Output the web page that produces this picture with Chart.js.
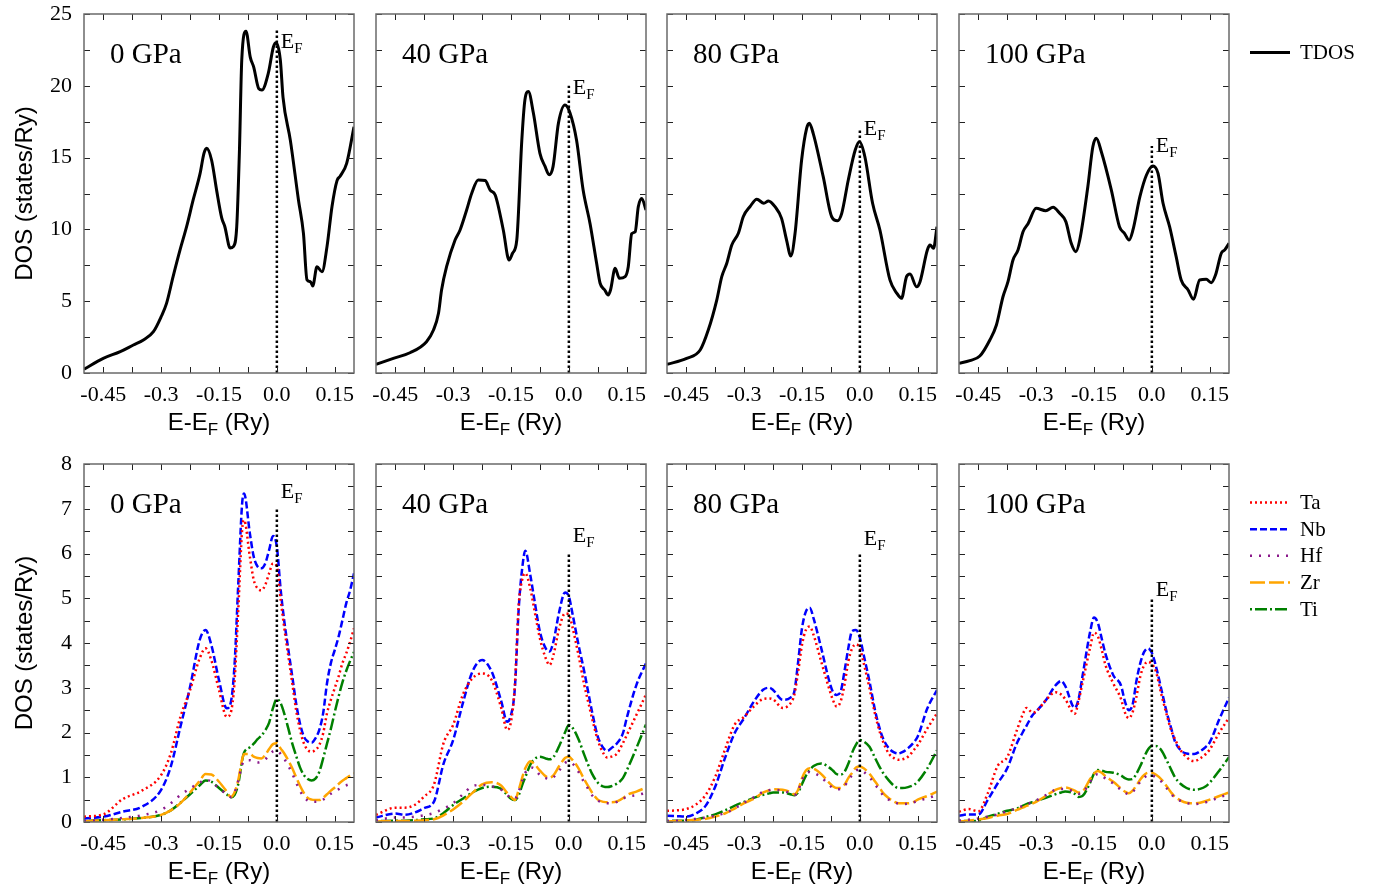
<!DOCTYPE html>
<html>
<head>
<meta charset="utf-8">
<script src="https://cdn.jsdelivr.net/npm/chart.js@4.4.1/dist/chart.umd.min.js"></script>
<style>
  html, body { margin: 0; padding: 0; background: #fff; }
  #page { position: relative; width: 1378px; height: 888px; overflow: hidden; }
  #page canvas { position: absolute; }
</style>
</head>
<body>
<div id="page"></div>
<script>
// ---- data ----
const pressures = ['0 GPa', '40 GPa', '80 GPa', '100 GPa'];

const xTicks = [-0.45, -0.375, -0.3, -0.225, -0.15, -0.075, 0, 0.075, 0.15];
const xTickLabels = ['-0.45', '', '-0.3', '', '-0.15', '', '0.0', '', '0.15'];
const tdosTicks = [0, 2.5, 5, 7.5, 10, 12.5, 15, 17.5, 20, 22.5, 25];
const tdosTickLabels = ['0', '', '5', '', '10', '', '15', '', '20', '', '25'];
const pdosTicks = [0, 0.5, 1, 1.5, 2, 2.5, 3, 3.5, 4, 4.5, 5, 5.5, 6, 6.5, 7, 7.5, 8];
const pdosTickLabels = ['0', '', '1', '', '2', '', '3', '', '4', '', '5', '', '6', '', '7', '', '8'];

// E_F marker: height of dotted line and of the label baseline (in DOS units)
const efTopTdos = [23.9, 20.0, 16.9, 15.8];
const efLabelTdos = [22.6, 19.4, 16.6, 15.4];
const efTopPdos = [7.0, 6.0, 6.0, 5.0];
const efLabelPdos = [7.25, 6.25, 6.2, 5.05];

// total DOS
const tdosE0 = [-0.5, -0.45, -0.406, -0.372, -0.346, -0.32, -0.3, -0.286, -0.269, -0.251, -0.234, -0.217, -0.199, -0.189, -0.182, -0.169, -0.156, -0.143, -0.135, -0.121, -0.113, -0.104, -0.097, -0.091, -0.08, -0.069, -0.06, -0.047, -0.039, -0.022, -0.009, -0.002, 0.009, 0.016, 0.035, 0.056, 0.069, 0.078, 0.087, 0.093, 0.104, 0.117, 0.13, 0.143, 0.156, 0.164, 0.181, 0.2];
const tdos0 = [0.26, 1.02, 1.49, 1.95, 2.3, 2.88, 3.92, 4.85, 6.71, 8.57, 10.19, 12.05, 13.9, 15.3, 15.65, 14.8, 12.7, 10.8, 10.2, 8.7, 8.8, 10.2, 15.5, 21.8, 23.8, 22.0, 21.3, 19.8, 19.7, 20.9, 22.7, 23.0, 21.8, 19.2, 16.2, 12.05, 9.7, 6.5, 6.36, 6.06, 7.4, 7.05, 8.8, 11.6, 13.4, 13.7, 14.6, 17.15];

const tdosE40 = [-0.5, -0.455, -0.412, -0.369, -0.351, -0.338, -0.33, -0.317, -0.295, -0.282, -0.265, -0.252, -0.235, -0.217, -0.204, -0.191, -0.17, -0.155, -0.146, -0.135, -0.122, -0.114, -0.105, -0.092, -0.075, -0.062, -0.051, -0.041, -0.027, -0.01, 0.003, 0.02, 0.037, 0.055, 0.072, 0.081, 0.093, 0.102, 0.108, 0.12, 0.131, 0.146, 0.154, 0.163, 0.172, 0.18, 0.189, 0.2];
const tdos40 = [0.6, 1.02, 1.41, 2.18, 2.99, 4.16, 5.78, 7.4, 9.26, 9.96, 11.35, 12.5, 13.44, 13.4, 12.74, 12.4, 9.96, 7.87, 8.34, 9.26, 16.2, 19.0, 19.6, 18.1, 15.3, 14.4, 13.8, 14.37, 17.4, 18.66, 18.1, 16.2, 12.74, 10.4, 7.64, 6.25, 5.78, 5.43, 5.78, 7.29, 6.59, 6.71, 7.4, 9.7, 9.84, 11.58, 12.16, 11.35];

const tdosE80 = [-0.5, -0.449, -0.414, -0.393, -0.371, -0.358, -0.345, -0.332, -0.315, -0.302, -0.285, -0.267, -0.249, -0.237, -0.22, -0.203, -0.19, -0.179, -0.168, -0.151, -0.138, -0.131, -0.121, -0.095, -0.073, -0.058, -0.047, -0.03, -0.012, -0.001, 0.013, 0.033, 0.052, 0.078, 0.096, 0.108, 0.121, 0.13, 0.147, 0.156, 0.175, 0.182, 0.191, 0.2];
const tdos80 = [0.6, 1.02, 1.6, 2.99, 5.08, 6.71, 7.64, 8.91, 9.73, 10.9, 11.58, 12.1, 11.82, 11.98, 11.58, 10.77, 9.26, 8.15, 9.73, 14.83, 17.04, 17.39, 16.69, 13.67, 10.88, 10.6, 11.12, 13.44, 15.53, 16.1, 15.06, 11.82, 9.96, 6.48, 5.55, 5.2, 6.71, 6.9, 6.0, 6.36, 8.57, 8.91, 8.68, 10.19];

const tdosE100 = [-0.5, -0.472, -0.446, -0.42, -0.403, -0.386, -0.373, -0.36, -0.347, -0.334, -0.321, -0.3, -0.275, -0.256, -0.239, -0.223, -0.209, -0.197, -0.187, -0.166, -0.153, -0.144, -0.131, -0.105, -0.084, -0.071, -0.059, -0.049, -0.031, -0.014, 0.003, 0.016, 0.029, 0.046, 0.063, 0.076, 0.094, 0.108, 0.124, 0.141, 0.154, 0.165, 0.18, 0.189, 0.2];
const tdos100 = [0.67, 0.86, 1.18, 2.3, 3.34, 5.31, 6.36, 7.87, 8.57, 9.84, 10.4, 11.47, 11.3, 11.54, 11.12, 10.54, 9.03, 8.45, 9.26, 12.97, 15.76, 16.34, 15.41, 12.74, 10.19, 9.73, 9.26, 9.96, 12.28, 13.79, 14.42, 13.9, 11.82, 10.19, 8.1, 6.48, 5.78, 5.13, 6.48, 6.52, 6.29, 6.82, 8.34, 8.57, 9.03];

// partial DOS, 0 GPa
const pdosE0 = [-0.5, -0.45, -0.4, -0.35, -0.3, -0.275, -0.25, -0.225, -0.2, -0.185, -0.17, -0.15, -0.13, -0.12, -0.11, -0.1, -0.09, -0.085, -0.07, -0.06, -0.05, -0.04, -0.03, -0.02, -0.01, 0, 0.01, 0.02, 0.03, 0.04, 0.05, 0.06, 0.07, 0.08, 0.09, 0.1, 0.11, 0.12, 0.13, 0.14, 0.15, 0.16, 0.17, 0.18, 0.19, 0.2];
const ta0 = [0.12, 0.17, 0.51, 0.7, 1.05, 1.53, 2.35, 2.95, 3.66, 3.88, 3.62, 2.95, 2.35, 2.43, 3.1, 4.74, 6.53, 6.75, 5.93, 5.41, 5.22, 5.18, 5.3, 5.56, 5.78, 5.71, 4.96, 4.29, 3.69, 3.1, 2.5, 2.06, 1.76, 1.61, 1.57, 1.61, 1.72, 1.98, 2.43, 2.73, 2.99, 3.25, 3.55, 3.77, 4.03, 4.33];
const nb0 = [0.08, 0.12, 0.23, 0.34, 0.72, 1.24, 2.13, 3.02, 4.07, 4.29, 3.96, 3.17, 2.54, 2.65, 3.47, 5.33, 7.12, 7.34, 6.45, 5.93, 5.71, 5.67, 5.78, 6.08, 6.39, 6.15, 5.18, 4.44, 3.84, 3.25, 2.65, 2.2, 1.91, 1.8, 1.77, 1.87, 2.06, 2.43, 3.1, 3.55, 3.84, 4.14, 4.51, 4.89, 5.18, 5.56];
const hf0 = [0.02, 0.05, 0.09, 0.15, 0.27, 0.42, 0.6, 0.75, 0.88, 0.95, 0.9, 0.75, 0.62, 0.56, 0.65, 0.92, 1.28, 1.36, 1.38, 1.35, 1.33, 1.35, 1.4, 1.5, 1.58, 1.6, 1.52, 1.4, 1.25, 1.08, 0.88, 0.7, 0.56, 0.48, 0.45, 0.45, 0.46, 0.5, 0.56, 0.63, 0.68, 0.73, 0.78, 0.82, 0.85, 0.87];
const zr0 = [0.02, 0.04, 0.06, 0.09, 0.16, 0.26, 0.42, 0.66, 0.92, 1.07, 1.06, 0.9, 0.68, 0.56, 0.66, 0.94, 1.4, 1.52, 1.52, 1.46, 1.43, 1.42, 1.5, 1.63, 1.74, 1.76, 1.64, 1.52, 1.37, 1.2, 1.0, 0.81, 0.65, 0.54, 0.5, 0.49, 0.49, 0.54, 0.62, 0.7, 0.77, 0.85, 0.92, 0.98, 1.04, 1.09];
const ti0 = [0.02, 0.04, 0.06, 0.09, 0.16, 0.26, 0.43, 0.62, 0.82, 0.93, 0.9, 0.76, 0.62, 0.55, 0.6, 0.85, 1.38, 1.55, 1.67, 1.75, 1.85, 1.93, 2.05, 2.22, 2.55, 2.75, 2.65, 2.4, 2.08, 1.75, 1.48, 1.22, 1.05, 0.96, 0.93, 0.97, 1.12, 1.42, 1.75, 2.08, 2.45, 2.8, 3.12, 3.38, 3.6, 3.8];

// partial DOS, 40 GPa
const pdosE40 = [-0.5, -0.45, -0.425, -0.4, -0.375, -0.35, -0.325, -0.3, -0.275, -0.25, -0.225, -0.2, -0.175, -0.16, -0.15, -0.14, -0.13, -0.12, -0.113, -0.1, -0.09, -0.075, -0.06, -0.05, -0.04, -0.025, -0.01, 0, 0.01, 0.025, 0.04, 0.05, 0.06, 0.075, 0.09, 0.1, 0.11, 0.125, 0.14, 0.15, 0.175, 0.2];
const ta40 = [0.16, 0.32, 0.32, 0.38, 0.57, 0.83, 1.76, 2.17, 2.84, 3.21, 3.32, 3.17, 2.54, 2.06, 2.24, 3.06, 4.85, 5.45, 5.56, 5.22, 4.77, 4.1, 3.66, 3.51, 3.73, 4.33, 4.66, 4.64, 4.33, 3.73, 3.06, 2.69, 2.32, 1.83, 1.53, 1.44, 1.46, 1.53, 1.76, 1.94, 2.39, 2.85];
const nb40 = [0.1, 0.19, 0.16, 0.21, 0.31, 0.45, 1.3, 1.83, 2.65, 3.36, 3.62, 3.36, 2.69, 2.24, 2.39, 2.99, 4.77, 5.74, 6.06, 5.52, 5.0, 4.25, 3.88, 3.81, 4.03, 4.7, 5.13, 5.04, 4.63, 3.96, 3.36, 2.91, 2.47, 1.91, 1.65, 1.59, 1.65, 1.76, 1.98, 2.32, 3.06, 3.55];
const hf40 = [0.04, 0.1, 0.1, 0.12, 0.15, 0.2, 0.3, 0.42, 0.62, 0.8, 0.83, 0.8, 0.72, 0.6, 0.55, 0.52, 0.68, 0.95, 1.1, 1.22, 1.2, 1.05, 0.98, 0.96, 1.0, 1.15, 1.32, 1.35, 1.3, 1.12, 0.88, 0.74, 0.6, 0.48, 0.43, 0.42, 0.42, 0.45, 0.52, 0.56, 0.6, 0.65];
const zr40 = [0.01, 0.02, 0.02, 0.03, 0.04, 0.06, 0.15, 0.28, 0.45, 0.65, 0.84, 0.89, 0.81, 0.65, 0.56, 0.49, 0.72, 1.02, 1.2, 1.36, 1.3, 1.15, 1.02, 0.99, 1.04, 1.25, 1.43, 1.46, 1.38, 1.2, 0.95, 0.8, 0.66, 0.5, 0.45, 0.44, 0.44, 0.46, 0.53, 0.6, 0.68, 0.77];
const ti40 = [0.02, 0.03, 0.03, 0.04, 0.06, 0.08, 0.2, 0.38, 0.52, 0.66, 0.76, 0.79, 0.74, 0.6, 0.52, 0.49, 0.6, 0.85, 1.0, 1.28, 1.4, 1.46, 1.42, 1.4, 1.45, 1.7, 2.0, 2.17, 2.1, 1.85, 1.5, 1.28, 1.08, 0.88, 0.79, 0.78, 0.8, 0.86, 0.98, 1.15, 1.65, 2.18];

// partial DOS, 80 GPa
const pdosE80 = [-0.5, -0.475, -0.45, -0.425, -0.4, -0.375, -0.35, -0.325, -0.3, -0.275, -0.25, -0.235, -0.225, -0.2, -0.18, -0.17, -0.16, -0.15, -0.14, -0.13, -0.12, -0.1, -0.08, -0.07, -0.06, -0.05, -0.04, -0.03, -0.02, -0.01, 0, 0.01, 0.025, 0.04, 0.05, 0.06, 0.075, 0.09, 0.1, 0.11, 0.125, 0.14, 0.15, 0.175, 0.2];
const ta80 = [0.25, 0.26, 0.29, 0.39, 0.6, 1.01, 1.61, 2.17, 2.35, 2.58, 2.75, 2.76, 2.74, 2.55, 2.65, 2.84, 3.36, 3.96, 4.29, 4.37, 4.18, 3.58, 2.99, 2.73, 2.58, 2.69, 3.06, 3.58, 3.88, 3.97, 3.88, 3.55, 2.99, 2.39, 2.06, 1.8, 1.53, 1.42, 1.39, 1.4, 1.46, 1.61, 1.72, 2.09, 2.43];
const nb80 = [0.14, 0.13, 0.12, 0.19, 0.36, 0.79, 1.42, 1.98, 2.32, 2.69, 2.96, 3.0, 2.95, 2.73, 2.78, 2.91, 3.58, 4.33, 4.7, 4.79, 4.55, 3.88, 3.17, 2.91, 2.84, 2.91, 3.36, 3.88, 4.27, 4.29, 4.12, 3.73, 3.14, 2.47, 2.13, 1.87, 1.65, 1.55, 1.53, 1.56, 1.65, 1.78, 1.91, 2.54, 2.95];
const hf80 = [0.02, 0.03, 0.05, 0.07, 0.1, 0.14, 0.2, 0.3, 0.43, 0.55, 0.68, 0.71, 0.72, 0.7, 0.64, 0.6, 0.7, 0.94, 1.08, 1.12, 1.1, 1.0, 0.83, 0.76, 0.73, 0.74, 0.8, 0.93, 1.05, 1.15, 1.17, 1.12, 1.0, 0.83, 0.72, 0.6, 0.5, 0.44, 0.41, 0.4, 0.41, 0.44, 0.47, 0.53, 0.6];
const zr80 = [0.01, 0.02, 0.03, 0.05, 0.07, 0.12, 0.19, 0.3, 0.42, 0.52, 0.66, 0.71, 0.73, 0.72, 0.67, 0.62, 0.72, 0.98, 1.15, 1.2, 1.19, 1.07, 0.88, 0.8, 0.76, 0.76, 0.83, 0.98, 1.1, 1.22, 1.24, 1.2, 1.08, 0.9, 0.78, 0.65, 0.53, 0.45, 0.42, 0.42, 0.42, 0.45, 0.5, 0.58, 0.68];
const ti80 = [0.02, 0.03, 0.03, 0.05, 0.11, 0.17, 0.26, 0.36, 0.45, 0.54, 0.61, 0.64, 0.66, 0.66, 0.62, 0.6, 0.66, 0.85, 1.03, 1.16, 1.25, 1.31, 1.22, 1.15, 1.07, 1.06, 1.12, 1.3, 1.55, 1.73, 1.83, 1.8, 1.68, 1.42, 1.25, 1.1, 0.93, 0.8, 0.76, 0.76, 0.78, 0.83, 0.9, 1.2, 1.6];

// partial DOS, 100 GPa
const pdosE100 = [-0.5, -0.475, -0.45, -0.425, -0.4, -0.375, -0.35, -0.335, -0.325, -0.31, -0.3, -0.275, -0.25, -0.235, -0.225, -0.2, -0.19, -0.18, -0.16, -0.15, -0.14, -0.13, -0.12, -0.1, -0.08, -0.07, -0.06, -0.05, -0.04, -0.03, -0.02, -0.01, 0, 0.01, 0.025, 0.04, 0.05, 0.06, 0.075, 0.09, 0.1, 0.11, 0.125, 0.14, 0.15, 0.175, 0.2];
const ta100 = [0.23, 0.29, 0.24, 0.65, 1.25, 1.45, 2.05, 2.4, 2.55, 2.45, 2.47, 2.72, 2.9, 2.85, 2.75, 2.42, 2.7, 3.1, 3.9, 4.23, 4.15, 3.85, 3.5, 3.1, 2.75, 2.45, 2.32, 2.45, 2.8, 3.25, 3.5, 3.58, 3.53, 3.38, 2.84, 2.35, 2.05, 1.85, 1.6, 1.45, 1.38, 1.36, 1.42, 1.52, 1.62, 2.0, 2.33];
const nb100 = [0.14, 0.17, 0.17, 0.5, 0.86, 1.2, 1.76, 2.0, 2.15, 2.38, 2.47, 2.72, 3.05, 3.15, 3.05, 2.55, 2.75, 3.25, 4.25, 4.57, 4.45, 4.1, 3.75, 3.28, 3.05, 2.7, 2.5, 2.62, 3.15, 3.55, 3.8, 3.88, 3.78, 3.5, 2.95, 2.4, 2.1, 1.8, 1.6, 1.53, 1.52, 1.52, 1.58, 1.68, 1.78, 2.3, 2.78];
const hf100 = [0.03, 0.05, 0.08, 0.12, 0.17, 0.24, 0.31, 0.36, 0.4, 0.44, 0.48, 0.6, 0.72, 0.74, 0.74, 0.67, 0.63, 0.65, 0.9, 1.02, 1.07, 1.04, 0.97, 0.86, 0.72, 0.66, 0.62, 0.67, 0.78, 0.9, 0.99, 1.04, 1.04, 1.0, 0.9, 0.74, 0.63, 0.54, 0.47, 0.42, 0.41, 0.4, 0.41, 0.44, 0.47, 0.55, 0.62];
const zr100 = [0.01, 0.03, 0.06, 0.09, 0.14, 0.18, 0.27, 0.32, 0.36, 0.41, 0.45, 0.58, 0.72, 0.76, 0.77, 0.7, 0.66, 0.68, 0.96, 1.08, 1.14, 1.1, 1.02, 0.9, 0.75, 0.68, 0.64, 0.7, 0.82, 0.95, 1.05, 1.1, 1.1, 1.06, 0.95, 0.78, 0.66, 0.56, 0.48, 0.43, 0.42, 0.42, 0.43, 0.47, 0.5, 0.58, 0.66];
const ti100 = [0.02, 0.02, 0.03, 0.12, 0.18, 0.25, 0.3, 0.36, 0.4, 0.44, 0.47, 0.54, 0.62, 0.66, 0.68, 0.63, 0.56, 0.58, 0.88, 1.08, 1.16, 1.15, 1.12, 1.1, 1.04, 0.98, 0.95, 0.96, 1.08, 1.25, 1.45, 1.62, 1.7, 1.7, 1.6, 1.35, 1.17, 1.0, 0.85, 0.76, 0.73, 0.72, 0.74, 0.8, 0.88, 1.15, 1.45];

const tdosPanels = [[tdosE0, tdos0], [tdosE40, tdos40], [tdosE80, tdos80], [tdosE100, tdos100]];
const pdosPanels = [
  [pdosE0, ta0, nb0, hf0, zr0, ti0],
  [pdosE40, ta40, nb40, hf40, zr40, ti40],
  [pdosE80, ta80, nb80, hf80, zr80, ti80],
  [pdosE100, ta100, nb100, hf100, zr100, ti100]
];

const species = ['Ta', 'Nb', 'Hf', 'Zr', 'Ti'];
const speciesColor = ['#ff0000', '#0000ff', '#8b1a8b', '#ffa500', '#008000'];
const speciesDash = [[2, 3], [7, 3], [2, 7], [15, 4], [2, 3, 12, 3]];

// ---- layout ----
const SERIF = '"Liberation Serif", "Times New Roman", serif';
const SANS = '"Liberation Sans", Arial, sans-serif';
Chart.defaults.font.family = SERIF;
Chart.defaults.color = '#000';

const colLeft = [84, 376, 667, 959];
const rowTop = [14, 464];
const plotW = 270;
const plotH = [359, 358];
const AXIS_W = 84, PAD_TOP = 14, AXIS_H = 66;

const pairs = (xs, ys) => xs.map((x, i) => ({ x: x, y: ys[i] }));

const frame = {
  id: 'frame',
  afterDatasetsDraw(chart, args, opts) {
    const { ctx, chartArea: a, scales: { x, y } } = chart;
    ctx.save();
    // inward ticks on all four sides
    ctx.strokeStyle = '#222';
    ctx.lineWidth = 1;
    ctx.beginPath();
    x.ticks.forEach(t => {
      const px = Math.round(x.getPixelForValue(t.value)) + 0.5;
      ctx.moveTo(px, a.bottom); ctx.lineTo(px, a.bottom - 6);
      ctx.moveTo(px, a.top); ctx.lineTo(px, a.top + 6);
    });
    y.ticks.forEach(t => {
      const py = Math.round(y.getPixelForValue(t.value)) + 0.5;
      ctx.moveTo(a.left, py); ctx.lineTo(a.left + 6, py);
      ctx.moveTo(a.right, py); ctx.lineTo(a.right - 6, py);
    });
    ctx.stroke();
    ctx.strokeStyle = '#6a6a6a';
    ctx.lineWidth = 1.5;
    ctx.strokeRect(a.left, a.top, a.right - a.left, a.bottom - a.top);

    ctx.fillStyle = '#000';
    ctx.textBaseline = 'alphabetic';
    ctx.textAlign = 'left';
    // pressure label
    ctx.font = '29px ' + SERIF;
    ctx.fillText(opts.label, a.left + 26, a.top + 49);
    // E_F label
    const ex = x.getPixelForValue(0) + 4;
    const ey = y.getPixelForValue(opts.efLabel);
    ctx.font = '22px ' + SERIF;
    ctx.fillText('E', ex, ey);
    const ew = ctx.measureText('E').width;
    ctx.font = '15px ' + SERIF;
    ctx.fillText('F', ex + ew, ey + 5);

    // x axis title with subscript
    const base = a.bottom + 57;
    ctx.font = '24px ' + SANS;
    const w1 = ctx.measureText('E-E').width;
    const w3 = ctx.measureText(' (Ry)').width;
    ctx.font = '17px ' + SANS;
    const w2 = ctx.measureText('F').width;
    const tx = (a.left + a.right) / 2 - (w1 + w2 + w3) / 2;
    ctx.font = '24px ' + SANS;
    ctx.fillText('E-E', tx, base);
    ctx.font = '17px ' + SANS;
    ctx.fillText('F', tx + w1, base + 5);
    ctx.font = '24px ' + SANS;
    ctx.fillText(' (Ry)', tx + w1 + w2, base);

    // legend beside the last column
    if (opts.legend) {
      let ly = a.top + 38.5;
      chart.data.datasets.forEach(ds => {
        if (ds.label === 'EF') return;
        ctx.strokeStyle = ds.borderColor;
        ctx.lineWidth = ds.borderWidth;
        ctx.setLineDash(ds.borderDash || []);
        ctx.beginPath();
        ctx.moveTo(a.right + 21, ly);
        ctx.lineTo(a.right + 61, ly);
        ctx.stroke();
        ctx.setLineDash([]);
        ctx.font = '21px ' + SERIF;
        ctx.textBaseline = 'middle';
        ctx.fillText(ds.label, a.right + 71, ly + 1);
        ly += 26.67;
      });
    }
    ctx.restore();
  }
};

function makePanel(row, col, datasets, yMax, yTicks, yTickLabels, efLabel) {
  const left = colLeft[col] - AXIS_W;
  const top = rowTop[row] - PAD_TOP;
  const width = col === 3 ? 1378 - left : AXIS_W + plotW + 6;
  const height = PAD_TOP + plotH[row] + AXIS_H;
  const cv = document.createElement('canvas');
  cv.width = width; cv.height = height;
  cv.style.left = left + 'px'; cv.style.top = top + 'px';
  cv.style.width = width + 'px'; cv.style.height = height + 'px';
  document.getElementById('page').appendChild(cv);

  new Chart(cv, {
    type: 'line',
    data: { datasets: datasets },
    options: {
      responsive: false,
      animation: false,
      events: [],
      layout: { padding: { left: 0, top: PAD_TOP, right: width - AXIS_W - plotW, bottom: 0 } },
      plugins: {
        legend: { display: false },
        tooltip: { enabled: false },
        frame: { label: pressures[col], efLabel: efLabel, legend: col === 3 }
      },
      elements: { point: { radius: 0 } },
      scales: {
        x: {
          type: 'linear', min: -0.5, max: 0.2,
          grid: { display: false, drawTicks: false },
          border: { display: false },
          afterBuildTicks: s => { s.ticks = xTicks.map(v => ({ value: v })); },
          afterFit: s => { s.height = AXIS_H; s.paddingLeft = 0; s.paddingRight = 0; },
          ticks: {
            autoSkip: false, maxRotation: 0, padding: 9,
            font: { size: 22, family: SERIF }, color: '#000',
            callback: (v, i) => xTickLabels[i]
          }
        },
        y: {
          type: 'linear', min: 0, max: yMax,
          grid: { display: false, drawTicks: false },
          border: { display: false },
          afterBuildTicks: s => { s.ticks = yTicks.map(v => ({ value: v })); },
          afterFit: s => { s.width = AXIS_W; s.paddingTop = 0; s.paddingBottom = 0; },
          title: {
            display: col === 0, text: 'DOS (states/Ry)',
            font: { size: 24, family: SANS }, color: '#000',
            padding: { top: 11, bottom: 0 }
          },
          ticks: {
            display: col === 0, autoSkip: false, padding: 12,
            font: { size: 22, family: SERIF }, color: '#000',
            callback: (v, i) => yTickLabels[i]
          }
        }
      }
    },
    plugins: [frame]
  });
}

function efLine(h) {
  return {
    label: 'EF', data: [{ x: 0, y: 0 }, { x: 0, y: h }],
    borderColor: '#000', borderWidth: 2.5, borderDash: [2.5, 2.5], pointRadius: 0
  };
}

tdosPanels.forEach(([es, vals], c) => {
  makePanel(0, c, [
    efLine(efTopTdos[c]),
    {
      label: 'TDOS', data: pairs(es, vals),
      borderColor: '#000', borderWidth: 3, cubicInterpolationMode: 'monotone'
    }
  ], 25, tdosTicks, tdosTickLabels, efLabelTdos[c]);
});

pdosPanels.forEach(([es, ...series], c) => {
  const ds = [efLine(efTopPdos[c])];
  series.forEach((vals, k) => {
    ds.push({
      label: species[k], data: pairs(es, vals),
      borderColor: speciesColor[k], borderWidth: 2.5, borderDash: speciesDash[k],
      cubicInterpolationMode: 'monotone'
    });
  });
  makePanel(1, c, ds, 8, pdosTicks, pdosTickLabels, efLabelPdos[c]);
});
</script>
</body>
</html>
